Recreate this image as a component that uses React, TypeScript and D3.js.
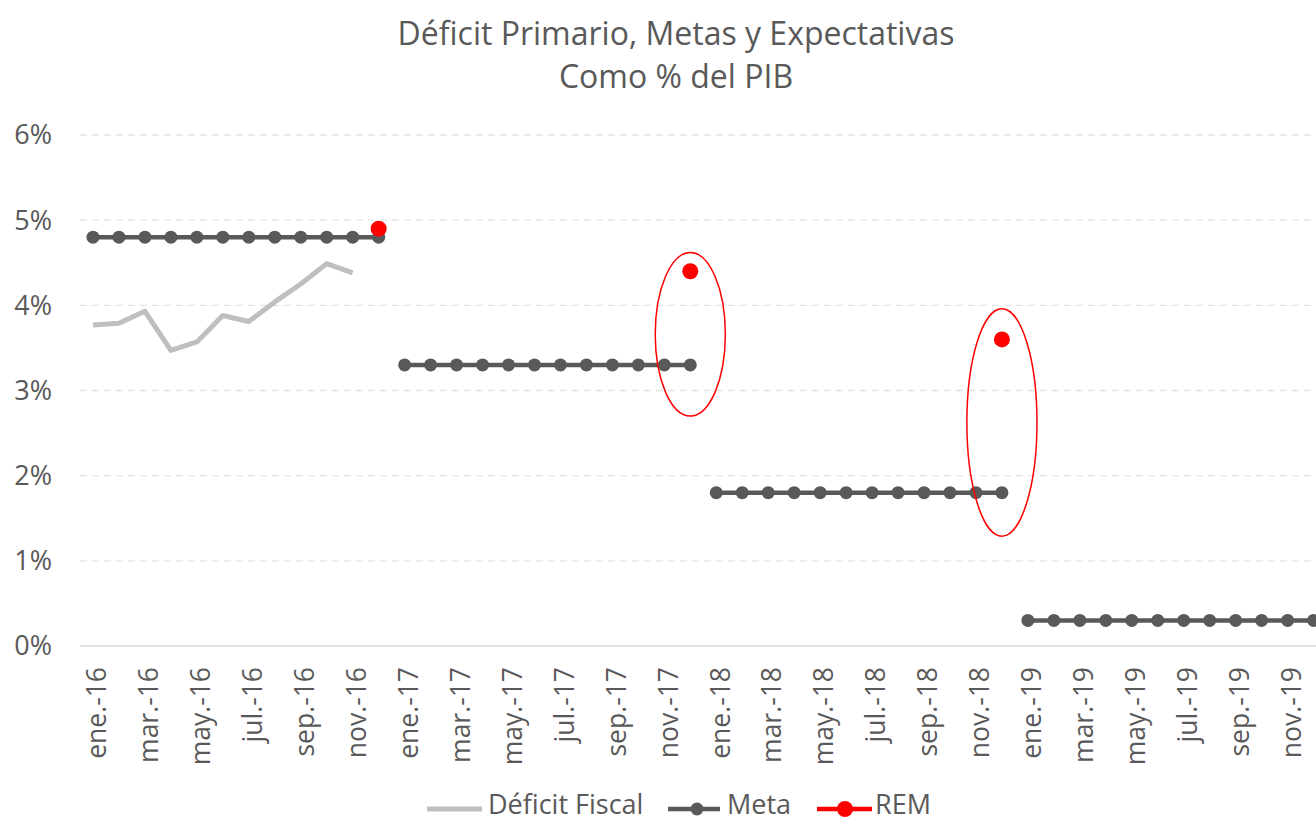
import * as d3 from 'd3';

const monthNames = ['ene.', 'feb.', 'mar.', 'abr.', 'may.', 'jun.', 'jul.', 'ago.', 'sep.', 'oct.', 'nov.', 'dic.'];
const years = ['16', '17', '18', '19'];
const categories = years.flatMap(yr => monthNames.map(m => `${m}-${yr}`));

// Déficit Fiscal, ene.-16 .. nov.-16
const deficitFiscal = [3.77, 3.79, 3.93, 3.47, 3.57, 3.88, 3.81, 4.04, 4.25, 4.49, 4.38];

// Meta, one value per month
const meta = [
  4.8, 4.8, 4.8, 4.8, 4.8, 4.8, 4.8, 4.8, 4.8, 4.8, 4.8, 4.8,
  3.3, 3.3, 3.3, 3.3, 3.3, 3.3, 3.3, 3.3, 3.3, 3.3, 3.3, 3.3,
  1.8, 1.8, 1.8, 1.8, 1.8, 1.8, 1.8, 1.8, 1.8, 1.8, 1.8, 1.8,
  0.3, 0.3, 0.3, 0.3, 0.3, 0.3, 0.3, 0.3, 0.3, 0.3, 0.3, 0.3,
];

const remMonths = ['dic.-16', 'dic.-17', 'dic.-18'];
const remValues = [4.9, 4.4, 3.6];

// red ovals drawn on the chart (month, lower and upper bound in %)
const ovalMonths = ['dic.-17', 'dic.-18'];
const ovalLow = [2.7, 1.29];
const ovalHigh = [4.62, 3.96];

const yTicks = [0, 1, 2, 3, 4, 5, 6];

const W = 1316;
const H = 822;
const FONT = '"Open Sans", "Noto Sans", sans-serif';
const TEXT = '#595959';

export default function App() {
  const left = 80;
  const step = 25.97;
  const x = d3.scaleBand<string>().domain(categories).range([left, left + step * categories.length]);
  const y = d3.scaleLinear().domain([0, 6]).range([646, 135]);
  const cx = (c: string) => (x(c) as number) + x.bandwidth() / 2;

  const line = d3.line<[string, number]>().x(d => cx(d[0])).y(d => y(d[1]));

  const deficitPts: [string, number][] = deficitFiscal.map((v, i) => [categories[i], v]);
  const metaPts: [string, number][] = meta.map((v, i) => [categories[i], v]);
  const metaByYear = d3.groups(metaPts, d => d[0].slice(-2));

  const legY = 809;

  return (
    <svg width={W} height={H} style={{ position: 'absolute', left: 0, top: 0, background: '#fff' }} fontFamily={FONT}>
      {/* title */}
      <text x={676} y={45} textAnchor="middle" fontSize={32} fill={TEXT}>Déficit Primario, Metas y Expectativas</text>
      <text x={676} y={88} textAnchor="middle" fontSize={32} fill={TEXT}>Como % del PIB</text>

      {/* grid */}
      {yTicks.filter(t => t > 0).map(t => (
        <line key={t} x1={left} x2={W} y1={y(t)} y2={y(t)} stroke="#E3E3E3" strokeWidth={1.3} strokeDasharray="7,5" />
      ))}
      <line x1={left} x2={W} y1={y(0)} y2={y(0)} stroke="#D9D9D9" strokeWidth={1.5} />

      {/* y axis labels */}
      {yTicks.map(t => (
        <text key={t} x={52} y={y(t)} dy="0.35em" textAnchor="end" fontSize={27} fill={TEXT}>{`${t}%`}</text>
      ))}

      {/* x axis labels */}
      {categories.filter((_, i) => i % 2 === 0).map(c => (
        <text key={c} transform={`translate(${cx(c) + 4},667) rotate(-90)`} dy="0.35em" textAnchor="end" fontSize={26.5} fill={TEXT}>{c}</text>
      ))}

      {/* Déficit Fiscal */}
      <path d={line(deficitPts) ?? ''} fill="none" stroke="#BFBFBF" strokeWidth={5} strokeLinejoin="round" />

      {/* Meta */}
      {metaByYear.map(([yr, pts]) => (
        <g key={yr}>
          <path d={line(pts) ?? ''} fill="none" stroke={TEXT} strokeWidth={4.5} />
          {pts.map(p => (
            <circle key={p[0]} cx={cx(p[0])} cy={y(p[1])} r={6.5} fill={TEXT} />
          ))}
        </g>
      ))}

      {/* REM */}
      {remMonths.map((m, i) => (
        <circle key={m} cx={cx(m)} cy={y(remValues[i])} r={8} fill="#FF0000" />
      ))}

      {/* ovals */}
      {ovalMonths.map((m, i) => (
        <ellipse key={m} cx={cx(m)} cy={(y(ovalLow[i]) + y(ovalHigh[i])) / 2} rx={x.bandwidth() * 1.35}
          ry={(y(ovalLow[i]) - y(ovalHigh[i])) / 2} fill="none" stroke="#FF0000" strokeWidth={1.5} />
      ))}

      {/* legend */}
      <g fontSize={27} fill={TEXT}>
        <line x1={427} x2={482} y1={legY} y2={legY} stroke="#BFBFBF" strokeWidth={5} />
        <text x={488} y={legY + 5}>Déficit Fiscal</text>
        <line x1={668} x2={720} y1={legY} y2={legY} stroke={TEXT} strokeWidth={4.5} />
        <circle cx={697} cy={legY} r={6.5} fill={TEXT} />
        <text x={727} y={legY + 5}>Meta</text>
        <line x1={817} x2={872} y1={legY} y2={legY} stroke="#FF0000" strokeWidth={4.5} />
        <circle cx={845} cy={legY} r={8} fill="#FF0000" />
        <text x={875} y={legY + 5}>REM</text>
      </g>
    </svg>
  );
}
